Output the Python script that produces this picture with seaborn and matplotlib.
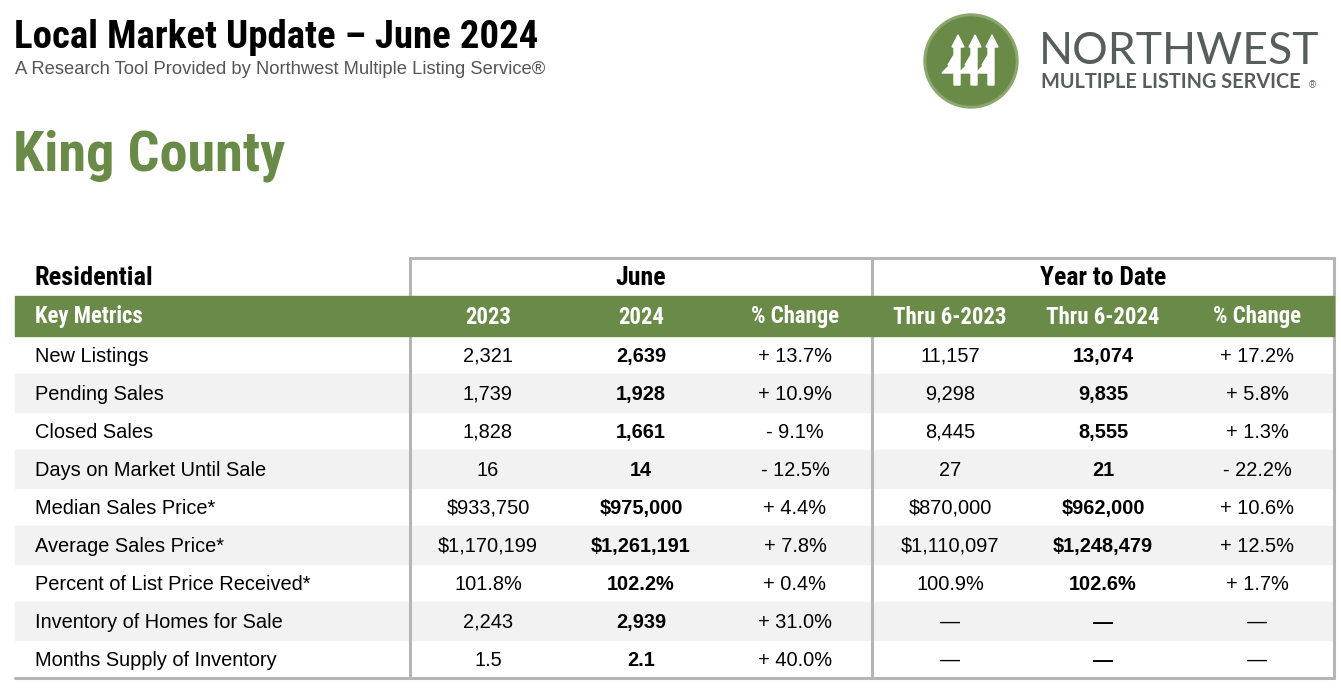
import matplotlib
matplotlib.use("Agg")
import matplotlib.pyplot as plt
import matplotlib.patches as mpatches
from matplotlib import font_manager
import seaborn as sns

sns.set_theme(style="white")


def escolhe_fonte(opcoes, padrao="DejaVu Sans"):
    nomes = {f.name for f in font_manager.fontManager.ttflist}
    for nome in opcoes:
        if nome in nomes:
            return nome
    return padrao


COND = escolhe_fonte(["Roboto Condensed", "Archivo Narrow", "Asap Condensed", "Barlow Condensed"])
LOGO = escolhe_fonte(["Lato", "Open Sans"])
plt.rcParams['font.family'] = ['Liberation Sans', 'DejaVu Sans']

# dados da tabela
metricas = ["New Listings", "Pending Sales", "Closed Sales", "Days on Market Until Sale",
            "Median Sales Price*", "Average Sales Price*", "Percent of List Price Received*",
            "Inventory of Homes for Sale", "Months Supply of Inventory"]
junho_2023 = ["2,321", "1,739", "1,828", "16", "$933,750", "$1,170,199", "101.8%", "2,243", "1.5"]
junho_2024 = ["2,639", "1,928", "1,661", "14", "$975,000", "$1,261,191", "102.2%", "2,939", "2.1"]
junho_var = ["+ 13.7%", "+ 10.9%", "- 9.1%", "- 12.5%", "+ 4.4%", "+ 7.8%", "+ 0.4%", "+ 31.0%", "+ 40.0%"]
ytd_2023 = ["11,157", "9,298", "8,445", "27", "$870,000", "$1,110,097", "100.9%", "—", "—"]
ytd_2024 = ["13,074", "9,835", "8,555", "21", "$962,000", "$1,248,479", "102.6%", "—", "—"]
ytd_var = ["+ 17.2%", "+ 5.8%", "+ 1.3%", "- 22.2%", "+ 10.6%", "+ 12.5%", "+ 1.7%", "—", "—"]
colunas = ["2023", "2024", "% Change", "Thru 6-2023", "Thru 6-2024", "% Change"]
grupos = ["June", "Year to Date"]

VERDE = "#6a8a48"
CINZA_LINHA = "#b5b5b5"
LISTRA = "#f2f2f2"
CINZA_LOGO = "#565e5b"

fig = plt.figure(figsize=(13.41, 6.88), dpi=100)
ax = fig.add_axes([0, 0, 1, 1])
ax.set_xlim(0, 1341)
ax.set_ylim(688, 0)
ax.axis("off")

# cabeçalho
ax.text(14, 38, "Local Market Update – June 2024", fontsize=28, fontweight="bold",
        family=COND, color="black", va="center", ha="left")
ax.text(15, 69, "A Research Tool Provided by Northwest Multiple Listing Service®",
        fontsize=13.25, color="#555555", va="center", ha="left")
ax.text(13, 156, "King County", fontsize=40.5, fontweight="bold", family=COND,
        color=VERDE, va="center", ha="left")

# logo
cx, cy, r = 971, 61, 47
ax.add_patch(mpatches.Circle((cx, cy), r, color="#8aa76c", zorder=2))
ax.add_patch(mpatches.Circle((cx, cy), r - 3, color=VERDE, zorder=3))
for dx in (-17, 0, 17):
    x0 = cx + dx
    arvore = [(x0 + 4, cy - 26), (x0 + 10, cy - 14), (x0 + 6, cy - 14), (x0 + 6, cy + 24),
              (x0, cy + 24), (x0, cy + 12), (x0 - 12, cy + 12), (x0 - 4, cy + 4),
              (x0 - 6, cy + 4), (x0, cy - 6), (x0, cy - 14), (x0 - 2, cy - 14)]
    ax.add_patch(mpatches.Polygon(arvore, closed=True, color="white", zorder=4))
ax.text(1039, 52, "NORTHWEST", fontsize=32, family=LOGO, color=CINZA_LOGO,
        va="center", ha="left")
ax.text(1041, 82, "MULTIPLE LISTING SERVICE", fontsize=14.3, fontweight="bold", family=LOGO,
        color=CINZA_LOGO, va="center", ha="left")
ax.text(1309, 85, "®", fontsize=7, color=CINZA_LOGO, va="center", ha="left")

# geometria da tabela
x_esq, x_jun, x_ytd, x_dir = 15, 410, 872, 1334
y_topo, y_verde, y_linhas = 258, 296, 336
alt = 38
centros = [488, 641, 795, 950, 1103, 1257]

# listras
for i in range(len(metricas)):
    y0 = y_linhas + i * alt
    if i % 2 == 1:
        ax.add_patch(mpatches.Rectangle((x_esq, y0), x_dir - x_esq, alt, color=LISTRA, zorder=1))

# bordas
lw = 2.2
y_fim = y_linhas + alt * len(metricas)
ax.plot([x_jun, x_dir], [y_topo, y_topo], color=CINZA_LINHA, lw=lw, zorder=2)
for xv in (x_jun, x_ytd, x_dir):
    ax.plot([xv, xv], [y_topo, y_fim], color=CINZA_LINHA, lw=lw, zorder=2)
ax.plot([x_esq, x_dir], [y_fim, y_fim], color=CINZA_LINHA, lw=lw, zorder=2)

# faixa verde
ax.add_patch(mpatches.Rectangle((x_esq, y_verde), x_dir - x_esq, y_linhas - y_verde,
                                color=VERDE, zorder=3))

ax.text(35, 278, "Residential", fontsize=19, fontweight="bold", family=COND,
        va="center", ha="left", color="black")
ax.text((x_jun + x_ytd) / 2, 278, grupos[0], fontsize=18.5, fontweight="bold", family=COND,
        va="center", ha="center", color="black")
ax.text((x_ytd + x_dir) / 2, 278, grupos[1], fontsize=18.5, fontweight="bold", family=COND,
        va="center", ha="center", color="black")

yc = (y_verde + y_linhas) / 2 + 1
ax.text(35, yc, "Key Metrics", fontsize=16.4, fontweight="bold", family=COND,
        va="center", ha="left", color="white", zorder=4)
for xc, nome in zip(centros, colunas):
    ax.text(xc, yc, nome, fontsize=16.4, fontweight="bold", family=COND,
            va="center", ha="center", color="white", zorder=4)

series = [junho_2023, junho_2024, junho_var, ytd_2023, ytd_2024, ytd_var]
negrito = [False, True, False, False, True, False]
for i, nome in enumerate(metricas):
    y = y_linhas + i * alt + alt / 2 + 1.5
    ax.text(35, y, nome, fontsize=14.4, va="center", ha="left", color="black", zorder=4)
    for xc, serie, b in zip(centros, series, negrito):
        ax.text(xc, y, serie[i], fontsize=14.4, va="center", ha="center", color="black",
                fontweight="bold" if b else "normal", zorder=4)

fig.savefig("out.png", dpi=100)
